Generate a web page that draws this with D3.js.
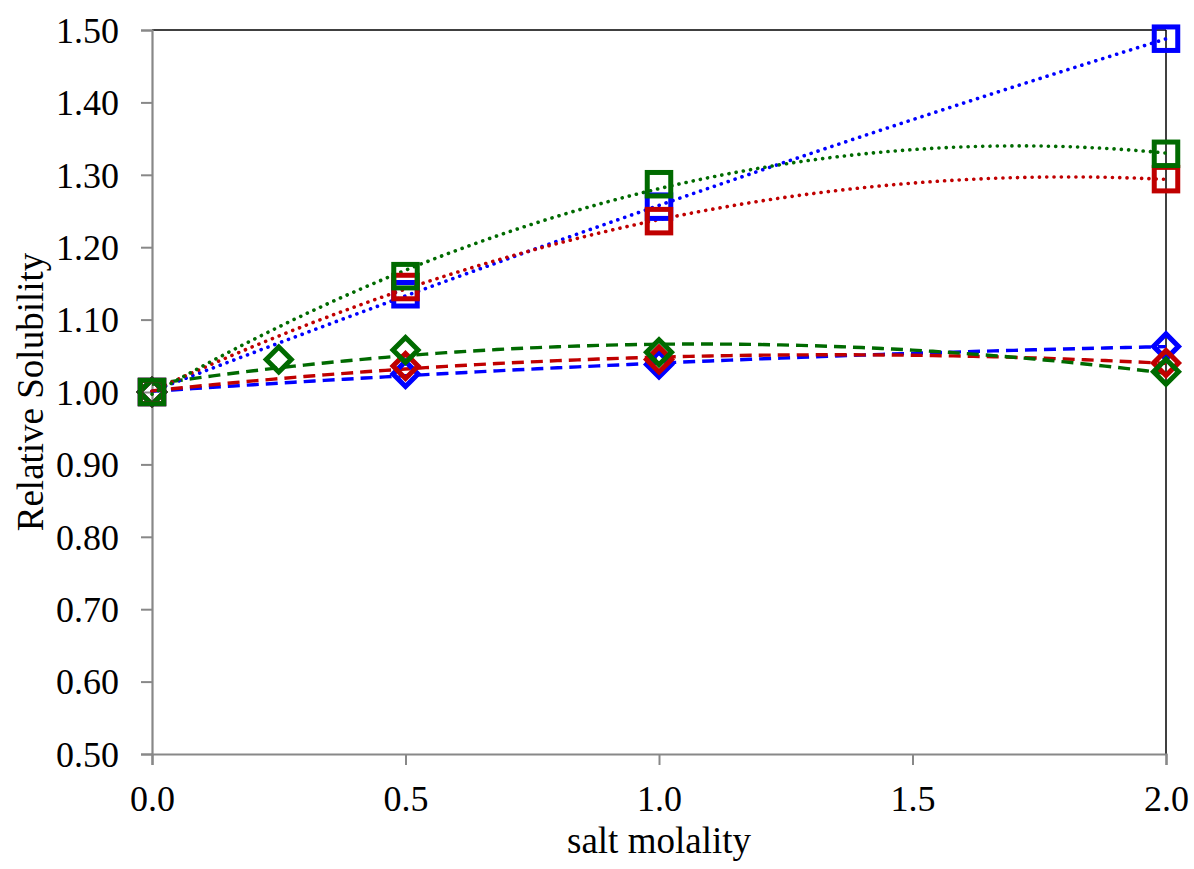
<!DOCTYPE html>
<html><head><meta charset="utf-8">
<script src="https://cdn.jsdelivr.net/npm/d3@7"></script>
<style>body{margin:0;background:#fff}svg{display:block}text{font-family:"Liberation Serif","Times New Roman",serif;fill:#000}</style>
</head><body><svg id="c" width="1194" height="869"></svg>
<script>
// ---- data ----
const xSquares = [0, 0.5, 1, 2];
const blueSquares = [1.00, 1.135, 1.256, 1.488];
const redSquares = [1.00, 1.145, 1.236, 1.294];
const greenSquares = [1.00, 1.16, 1.287, 1.329];
const xDiamonds = [0, 0.5, 1, 2];
const blueDiamonds = [1.00, 1.025, 1.038, 1.063];
const redDiamonds = [1.00, 1.036, 1.045, 1.040];
const xGreenDiamonds = [0, 0.25, 0.5, 1, 2];
const greenDiamonds = [1.00, 1.045, 1.058, 1.055, 1.028];
const xTicks = [0, 0.5, 1.0, 1.5, 2.0];
const yTicks = [0.5, 0.6, 0.7, 0.8, 0.9, 1.0, 1.1, 1.2, 1.3, 1.4, 1.5];
const colors = {blue: "#0000ff", red: "#c00000", green: "#006a00"};

const series = [
  {xs: xDiamonds, ys: blueDiamonds, color: colors.blue, shape: "diamond", line: "dash"},
  {xs: xDiamonds, ys: redDiamonds, color: colors.red, shape: "diamond", line: "dash"},
  {xs: xGreenDiamonds, ys: greenDiamonds, color: colors.green, shape: "diamond", line: "dash"},
  {xs: xSquares, ys: blueSquares, color: colors.blue, shape: "square", line: "dot"},
  {xs: xSquares, ys: redSquares, color: colors.red, shape: "square", line: "dot"},
  {xs: xSquares, ys: greenSquares, color: colors.green, shape: "square", line: "dot"}
];

// quadratic least squares (Excel polynomial trendline, order 2)
function polyFit(xs, ys) {
  const S = [0,0,0,0,0], T = [0,0,0];
  xs.forEach((x,i)=>{for(let k=0;k<5;k++)S[k]+=Math.pow(x,k);for(let k=0;k<3;k++)T[k]+=ys[i]*Math.pow(x,k);});
  const A = [[S[0],S[1],S[2],T[0]],[S[1],S[2],S[3],T[1]],[S[2],S[3],S[4],T[2]]];
  for(let i=0;i<3;i++){let p=i;for(let r=i+1;r<3;r++)if(Math.abs(A[r][i])>Math.abs(A[p][i]))p=r;[A[i],A[p]]=[A[p],A[i]];
    for(let r=0;r<3;r++){if(r===i)continue;const f=A[r][i]/A[i][i];for(let c=i;c<4;c++)A[r][c]-=f*A[i][c];}}
  return [A[0][3]/A[0][0],A[1][3]/A[1][1],A[2][3]/A[2][2]];
}

const svg = d3.select("#c");
const L=152,R=1166,T0=30,B=754;
const x = d3.scaleLinear().domain([0,2]).range([L,R]);
const y = d3.scaleLinear().domain([0.5,1.5]).range([B,T0]);

// frame top/right
svg.append("line").attr("x1",L).attr("x2",R).attr("y1",T0).attr("y2",T0).attr("stroke","#000").attr("stroke-width",1.5);
svg.append("line").attr("x1",R).attr("x2",R).attr("y1",T0).attr("y2",B).attr("stroke","#000").attr("stroke-width",1.5);

// axes
const yAx = svg.append("g").attr("transform",`translate(${L},0)`)
  .call(d3.axisLeft(y).tickValues(yTicks).tickFormat(d3.format(".2f")).tickSize(11).tickPadding(22));
const xAx = svg.append("g").attr("transform",`translate(0,${B})`)
  .call(d3.axisBottom(x).tickValues(xTicks).tickFormat(d3.format(".1f")).tickSize(11).tickPadding(20));
[yAx,xAx].forEach(g=>{
  g.select(".domain").attr("stroke","#888").attr("stroke-width",2.2);
  g.selectAll(".tick line").attr("stroke","#888").attr("stroke-width",2);
  g.selectAll(".tick text").attr("font-size",36).attr("font-family","Liberation Serif");
});
yAx.selectAll(".tick text").attr("dy","0.34em");
xAx.selectAll(".tick text").attr("dy","0.72em");

// trendlines
const xsLine = d3.range(0,2.0001,0.02);
series.forEach(s=>{
  const c = polyFit(s.xs,s.ys);
  const pts = xsLine.map(v=>[v,c[0]+c[1]*v+c[2]*v*v]);
  svg.append("path").datum(pts)
    .attr("d",d3.line().x(d=>x(d[0])).y(d=>y(d[1])))
    .attr("fill","none").attr("stroke",s.color)
    .attr("stroke-width",s.line==="dot"?3.6:3.4)
    .attr("stroke-linecap", s.line==="dot"?"round":"butt")
    .attr("stroke-dasharray", s.line==="dot"?"0.1 7.2":"12 7");
});

// markers: diamonds then squares, blue->red->green
const sqSize=23.5, dHalf=12.5;
series.forEach(s=>{
  const g = svg.append("g");
  s.xs.forEach((xv,i)=>{
    const cx=x(xv), cy=y(s.ys[i]);
    if(s.shape==="square"){
      g.append("rect").attr("x",cx-sqSize/2).attr("y",cy-sqSize/2).attr("width",sqSize).attr("height",sqSize)
        .attr("fill","none").attr("stroke",s.color).attr("stroke-width",5);
    } else {
      g.append("path").attr("d",`M${cx},${cy-dHalf}L${cx+dHalf},${cy}L${cx},${cy+dHalf}L${cx-dHalf},${cy}Z`)
        .attr("fill","none").attr("stroke",s.color).attr("stroke-width",5).attr("stroke-linejoin","miter");
    }
  });
});

// axis titles
svg.append("text").attr("x",(L+R)/2).attr("y",853).attr("text-anchor","middle").attr("font-size",37).text("salt molality");
svg.append("text").attr("transform",`translate(43,${(T0+B)/2}) rotate(-90)`).attr("text-anchor","middle").attr("font-size",37).text("Relative Solubility");
</script></body></html>
